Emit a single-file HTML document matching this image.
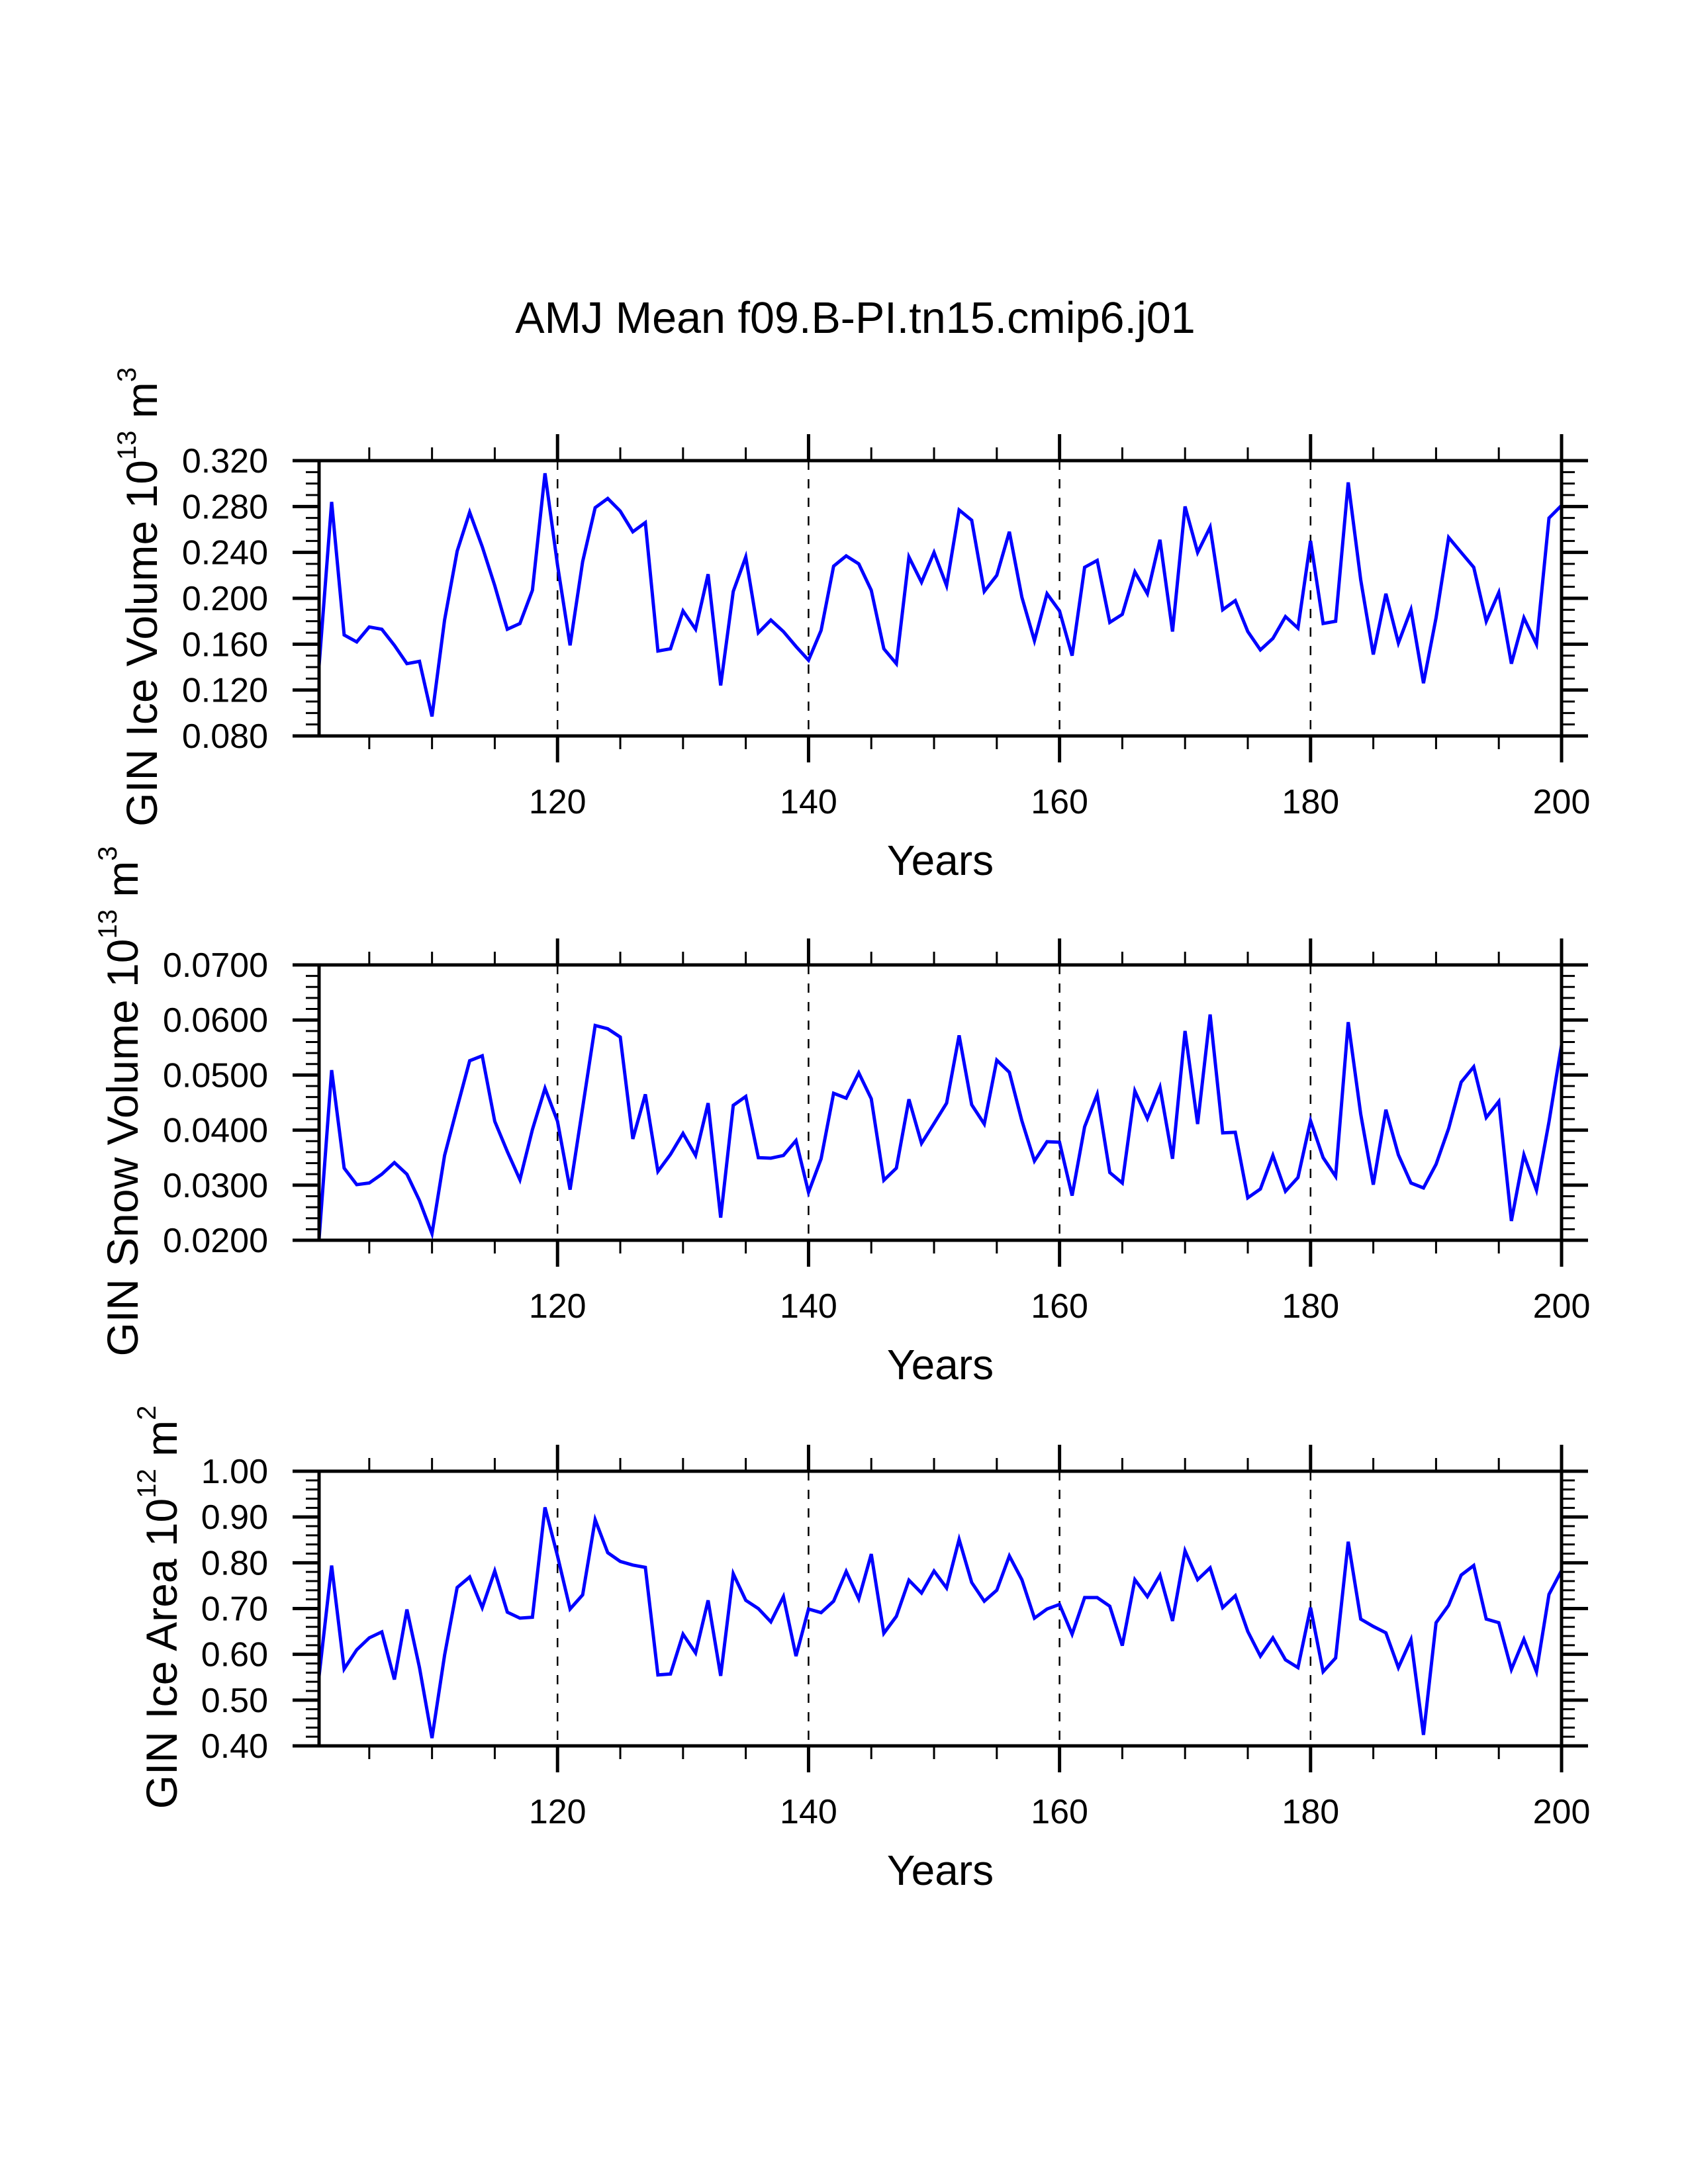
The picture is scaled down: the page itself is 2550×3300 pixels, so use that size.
<!DOCTYPE html>
<html><head><meta charset="utf-8"><title>AMJ Mean f09.B-PI.tn15.cmip6.j01</title>
<style>html,body{margin:0;padding:0;background:#fff}svg{display:block}text{font-family:"Liberation Sans",Arial,sans-serif;fill:#000}</style>
</head><body>
<svg id="chart" width="2550" height="3300" viewBox="0 0 2550 3300" xmlns="http://www.w3.org/2000/svg">
<rect width="2550" height="3300" fill="#fff"/>
<text x="1292" y="503" font-size="66.5" text-anchor="middle">AMJ Mean f09.B-PI.tn15.cmip6.j01</text>
</svg>
<script>
const years=[];for(let y=101;y<=200;y++)years.push(y);
const xTickLabels=[120,140,160,180,200];
const iceVolume=[0.141,0.284,0.168,0.162,0.175,0.173,0.159,0.143,0.145,0.097,0.181,0.241,0.275,0.245,0.211,0.173,0.178,0.207,0.309,0.229,0.159,0.232,0.279,0.287,0.276,0.258,0.266,0.154,0.156,0.189,0.173,0.221,0.124,0.206,0.236,0.170,0.181,0.171,0.158,0.146,0.172,0.228,0.237,0.230,0.207,0.156,0.143,0.236,0.214,0.240,0.211,0.277,0.268,0.206,0.220,0.258,0.201,0.163,0.204,0.189,0.150,0.227,0.233,0.179,0.186,0.223,0.204,0.251,0.171,0.280,0.240,0.262,0.190,0.198,0.171,0.155,0.165,0.184,0.174,0.250,0.178,0.180,0.301,0.216,0.151,0.204,0.161,0.190,0.126,0.183,0.253,0.240,0.227,0.180,0.205,0.143,0.183,0.160,0.270,0.281];
const snowVolume=[0.0202,0.0509,0.0331,0.0301,0.0304,0.0320,0.0341,0.0320,0.0272,0.0212,0.0354,0.0441,0.0526,0.0535,0.0416,0.0361,0.0310,0.0401,0.0476,0.0416,0.0292,0.0441,0.0590,0.0584,0.0569,0.0384,0.0465,0.0325,0.0356,0.0394,0.0354,0.0449,0.0241,0.0445,0.0461,0.0350,0.0349,0.0354,0.0381,0.0287,0.0348,0.0467,0.0458,0.0504,0.0457,0.0309,0.0331,0.0456,0.0376,0.0412,0.0449,0.0572,0.0446,0.0411,0.0527,0.0505,0.0417,0.0344,0.0379,0.0378,0.0281,0.0406,0.0465,0.0323,0.0304,0.0471,0.0421,0.0478,0.0348,0.0580,0.0411,0.0610,0.0395,0.0396,0.0277,0.0293,0.0354,0.0289,0.0314,0.0417,0.0350,0.0316,0.0596,0.0429,0.0301,0.0437,0.0355,0.0304,0.0295,0.0338,0.0403,0.0487,0.0515,0.0423,0.0452,0.0235,0.0355,0.0291,0.0415,0.0555];
const iceArea=[0.552,0.794,0.568,0.610,0.636,0.649,0.545,0.698,0.571,0.417,0.598,0.746,0.769,0.702,0.782,0.692,0.679,0.681,0.921,0.815,0.699,0.730,0.894,0.822,0.803,0.795,0.790,0.555,0.557,0.644,0.603,0.718,0.553,0.776,0.718,0.700,0.671,0.726,0.596,0.699,0.691,0.716,0.781,0.721,0.819,0.646,0.683,0.762,0.734,0.782,0.745,0.851,0.757,0.716,0.740,0.815,0.763,0.679,0.699,0.709,0.644,0.724,0.724,0.705,0.619,0.763,0.726,0.773,0.673,0.826,0.763,0.789,0.702,0.728,0.650,0.596,0.636,0.588,0.571,0.702,0.562,0.592,0.846,0.677,0.661,0.647,0.571,0.632,0.424,0.669,0.707,0.773,0.794,0.677,0.669,0.567,0.633,0.562,0.731,0.783];
const iceVolumeTicks=["0.080","0.120","0.160","0.200","0.240","0.280","0.320"];
const snowVolumeTicks=["0.0200","0.0300","0.0400","0.0500","0.0600","0.0700"];
const iceAreaTicks=["0.40","0.50","0.60","0.70","0.80","0.90","1.00"];

const NS="http://www.w3.org/2000/svg";
const svg=document.getElementById('chart');
const L=482,R=2359,X0=101,X1=200;
function xs(v){return L+(v-X0)/(X1-X0)*(R-L);}
function mk(tag,attrs,parent){const e=document.createElementNS(NS,tag);for(const k in attrs)e.setAttribute(k,attrs[k]);(parent||svg).appendChild(e);return e;}

const panels=[
 {key:'ice-volume',top:696,bot:1112,min:0.08,max:0.32,minor:0.01,ticks:iceVolumeTicks,data:iceVolume,title:'GIN Ice Volume 10',sup:'13',unit:' m',usup:'3',tx:237},
 {key:'snow-volume',top:1458,bot:1874,min:0.02,max:0.07,minor:0.002,ticks:snowVolumeTicks,data:snowVolume,title:'GIN Snow Volume 10',sup:'13',unit:' m',usup:'3',tx:208},
 {key:'ice-area',top:2223,bot:2638,min:0.40,max:1.00,minor:0.02,ticks:iceAreaTicks,data:iceArea,title:'GIN Ice Area 10',sup:'12',unit:' m',usup:'2',tx:267}
];

panels.forEach(p=>{
 const g=mk('g',{});
 
 
 const ys=v=>p.bot-(v-p.min)/(p.max-p.min)*(p.bot-p.top);
 [120,140,160,180].forEach(v=>{
  const d=mk('line',{x1:xs(v),x2:xs(v),y1:p.top,y2:p.bot,stroke:'#000','stroke-width':2.5,'stroke-dasharray':'14 14'},g);
  
  
 });
 const pts=p.data.map((v,i)=>xs(years[i]).toFixed(1)+','+ys(v).toFixed(1)).join(' ');
 const pl=mk('polyline',{points:pts,fill:'none',stroke:'#0000ff','stroke-width':5,'stroke-linejoin':'miter'},g);
 
 
 const fr=mk('rect',{x:L,y:p.top,width:R-L,height:p.bot-p.top,fill:'none',stroke:'#000','stroke-width':5},g);
 
 
 for(let v=105;v<=200;v+=5){
  const major=(v%20===0);const len=major?40:20;const sw=major?5:3;const x=xs(v);
  const t1=mk('line',{x1:x,x2:x,y1:p.top,y2:p.top-len,stroke:'#000','stroke-width':sw},g);
  
  
  const t2=mk('line',{x1:x,x2:x,y1:p.bot,y2:p.bot+len,stroke:'#000','stroke-width':sw},g);
  
  
 }
 xTickLabels.forEach(v=>{
  const t=mk('text',{x:xs(v),y:p.bot+117,'font-size':52,'text-anchor':'middle'},g);
  t.textContent=v;
  
  
 });
 const n=Math.round((p.max-p.min)/p.minor);
 const step=(p.max-p.min)/(p.ticks.length-1);
 const per=Math.round(step/p.minor);
 for(let i=0;i<=n;i++){
  const v=p.min+i*p.minor;const y=ys(v);const major=(i%per===0);const len=major?40:20;const sw=major?5:3;
  const a=mk('line',{x1:L,x2:L-len,y1:y,y2:y,stroke:'#000','stroke-width':sw},g);
  
  
  const b=mk('line',{x1:R,x2:R+len,y1:y,y2:y,stroke:'#000','stroke-width':sw},g);
  
  
 }
 p.ticks.forEach((lab,i)=>{
  const t=mk('text',{x:405,y:ys(p.min+i*step)+18,'font-size':52,'text-anchor':'end'},g);
  t.textContent=lab;
  
  
 });
 const xt=mk('text',{x:(L+R)/2,y:p.bot+210,'font-size':64,'text-anchor':'middle'},g);
 xt.textContent='Years';
 
 
 const cy=(p.top+p.bot)/2-2;
 const yt=mk('text',{x:0,y:0,'font-size':66,'text-anchor':'middle',transform:'translate('+p.tx+','+cy+') rotate(-90)'},g);
 
 
 const s1=mk('tspan',{},yt);s1.textContent=p.title;
 const s2=mk('tspan',{'font-size':40,dy:-32},yt);s2.textContent=p.sup;
 const s3=mk('tspan',{dy:32},yt);s3.textContent=p.unit;
 const s4=mk('tspan',{'font-size':40,dy:-32},yt);s4.textContent=p.usup;
});
</script>
</body></html>
